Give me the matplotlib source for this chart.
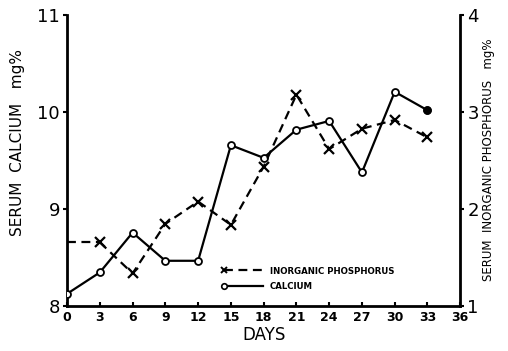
import matplotlib
matplotlib.use("Agg")
import matplotlib.pyplot as plt
from matplotlib.lines import Line2D
from matplotlib.legend_handler import HandlerLine2D

# days of observation
days = [0, 3, 6, 9, 12, 15, 18, 21, 24, 27, 30, 33]
# serum calcium, mg %
calcium = [8.13, 8.35, 8.76, 8.47, 8.47, 9.66, 9.53, 9.82, 9.91, 9.38, 10.21, 10.02]
# serum inorganic phosphorus, mg %
phos_days = [0, 3, 6, 9, 12, 15, 18, 21, 24, 27, 30, 33]
phosphorus = [1.66, 1.66, 1.34, 1.85, 2.08, 1.84, 2.44, 3.18, 2.62, 2.83, 2.92, 2.74]

xticks = [0, 3, 6, 9, 12, 15, 18, 21, 24, 27, 30, 33, 36]
left_ticks = [8, 9, 10, 11]
right_ticks = [1, 2, 3, 4]


class MarkerAtStart(HandlerLine2D):
    # legend key with the marker at the left end of the line, like the drawn key
    def create_artists(self, legend, orig_handle, xdescent, ydescent,
                       width, height, fontsize, trans):
        y = (height - ydescent) / 2
        line = Line2D([-xdescent, -xdescent + width], [y, y])
        self.update_prop(line, orig_handle, legend)
        line.set_marker("None")
        mark = Line2D([-xdescent], [y])
        self.update_prop(mark, orig_handle, legend)
        mark.set_linestyle("None")
        line.set_transform(trans)
        mark.set_transform(trans)
        return [line, mark]


fig = plt.figure(figsize=(5.08, 3.51), dpi=100)
ax = fig.add_axes([0.132, 0.127, 0.774, 0.830])
ax2 = ax.twinx()

ax.plot(days, calcium, color="black", lw=1.6, marker="o", ms=5,
        mfc="white", mec="black", mew=1.3, zorder=3)
# last calcium point is filled in the original
ax.plot(days[-1:], calcium[-1:], "o", color="black", ms=5, zorder=4)

ax2.plot(phos_days[:2], phosphorus[:2], color="black", lw=1.6,
         dashes=(4, 2.5))
ax2.plot(phos_days[1:], phosphorus[1:], color="black", lw=1.6,
         dashes=(4, 2.5), marker="x", ms=7, mew=1.6)

ax.set_xlim(0, 36)
ax.set_ylim(8, 11)
ax2.set_ylim(1, 4)
ax.set_xticks(xticks)
ax.set_yticks(left_ticks)
ax2.set_yticks(right_ticks)

ax.set_xticklabels([str(t) for t in xticks], fontsize=9, fontweight="bold")
ax.set_yticklabels([str(t) for t in left_ticks], fontsize=13)
ax2.set_yticklabels([str(t) for t in right_ticks], fontsize=13)

for a in (ax, ax2):
    a.spines["top"].set_visible(False)
    for s in a.spines.values():
        s.set_linewidth(2)
ax.spines["right"].set_visible(False)
ax2.spines["left"].set_visible(False)
ax2.spines["bottom"].set_visible(False)

ax.tick_params(axis="y", direction="out", length=3, width=1.5, pad=2)
ax.tick_params(axis="x", direction="in", length=3, width=1.5, pad=3)
ax2.tick_params(axis="y", direction="out", length=3, width=1.5, pad=2)

ax.set_xlabel("DAYS", fontsize=12, labelpad=2)
fig.text(0.035, 1 - 143 / 351, "SERUM  CALCIUM   mg%", rotation=90,
         ha="center", va="center", fontsize=11)
fig.text(0.962, 1 - 160 / 351, "SERUM  INORGANIC PHOSPHORUS   mg%", rotation=90,
         ha="center", va="center", fontsize=8.5)

h_phos = Line2D([], [], color="black", lw=1.6, dashes=(4, 2.5), marker="x",
                ms=5, mew=1.4)
h_ca = Line2D([], [], color="black", lw=1.6, marker="o", ms=4,
              mfc="white", mew=1.2)
ax.legend([h_phos, h_ca], ["INORGANIC PHOSPHORUS", "CALCIUM"], loc="lower left",
          bbox_to_anchor=(0.38, 0.025), frameon=False,
          handlelength=4.5, handletextpad=0.8, labelspacing=0.8,
          prop={"weight": "bold", "size": 6.2},
          handler_map={Line2D: MarkerAtStart()})

fig.savefig("out.png", dpi=100)
